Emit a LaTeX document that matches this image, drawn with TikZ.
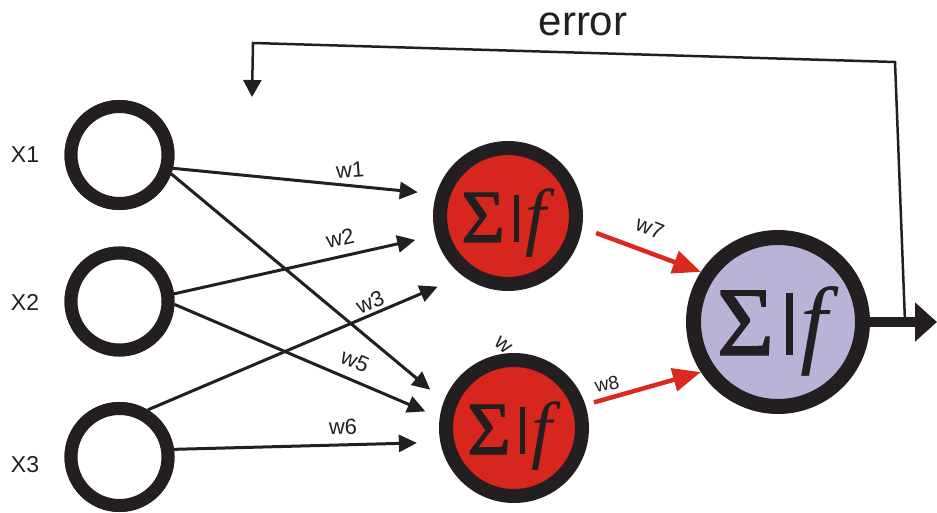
\documentclass[tikz,border=0pt]{standalone}
\usepackage{fontspec}
\setmainfont{Liberation Serif}
\newfontfamily\labelfont{Liberation Sans}
\newfontfamily\sigfont{Liberation Serif}[FakeBold=1.5]
\usetikzlibrary{arrows.meta}
\definecolor{ringc}{HTML}{231F20}
\definecolor{hred}{HTML}{D7261E}
\definecolor{lav}{HTML}{B8B3D7}
\definecolor{wred}{HTML}{DA2A20}
\newcommand{\sigf}[3]{\fontsize{#1}{#1}\selectfont{\sigfont Σ}\hspace{0.12em}\rule{#2}{#3}\hspace{0.08em}\textit{f}}
\tikzset{
  inp/.style={circle,draw=ringc,fill=white,line width=13pt,outer sep=6.5pt,inner sep=0pt,minimum size=97pt},
  hid/.style={circle,draw=ringc,fill=hred,line width=14pt,outer sep=7pt,inner sep=0pt,minimum size=136pt},
  outn/.style={circle,draw=ringc,fill=lav,line width=15pt,outer sep=7.5pt,inner sep=0pt,minimum size=169pt},
  conn/.style={draw=ringc,line width=3pt,-{Triangle[length=18pt,width=17pt]}},
  rconn/.style={draw=wred,line width=4.5pt,-{Triangle[length=28pt,width=23pt]}},
  lbl/.style={font=\labelfont\fontsize{22}{22}\selectfont,text=ringc,inner sep=0pt},
  xlbl/.style={font=\labelfont\fontsize{23}{23}\selectfont,text=ringc,inner sep=0pt},
  sig/.style={anchor=base,inner sep=0pt,text=ringc}
}
\begin{document}
\begin{tikzpicture}[x=1pt,y=-1pt]
\useasboundingbox (0,0) rectangle (937,513);
% node positions
\coordinate (cx1) at (119.5,155);
\coordinate (cx2) at (119.5,301.5);
\coordinate (cx3) at (119.5,457);
% partial hidden label
\node[lbl,rotate=-40] (w4) at (503,345) {w};
% nodes
\node[inp] (x1) at (cx1) {};
\node[inp] (x2) at (cx2) {};
\node[inp] (x3) at (cx3) {};
\node[hid] (h1) at (508,216) {};
\node[hid] (h2) at (514,428) {};
\node[outn] (o) at (778,322) {};
\node[sig] (s1) at ([yshift=-26pt]h1.center) {\sigf{75}{5.5pt}{47pt}};
\node[sig] (s2) at ([yshift=-26pt]h2.center) {\sigf{75}{5.5pt}{47pt}};
\node[sig] (s3) at ([yshift=-33pt]o.center) {\sigf{98}{7pt}{62pt}};
% connectors input -> hidden
\draw[conn,shorten >=18.6pt] (x1.-14) -- (h1.163);
\draw[conn,shorten >=17.8pt] (x1.-20) -- (h2.159);
\draw[conn,shorten >=20.8pt] (x2.8) -- (h1.195);
\draw[conn,shorten >=15.6pt] (x2.-3) -- (h2.172);
\draw[conn,shorten >=27.4pt] (x3.59) -- (h1.233);
\draw[conn,shorten >=23.5pt] (x3.8) -- (h2.191);
% redraw input circles over line starts
\node[inp] at (cx1) {};
\node[inp] at (cx2) {};
\node[inp] at (cx3) {};
% hidden -> output
\draw[rconn,shorten <=15pt] (h1.-9) -- (o.147);
\draw[rconn,shorten <=9pt] (h2.18) -- (o.213);
% output and error feedback
\coordinate (out) at (937,322);
\coordinate (fb0) at (905,322);
\coordinate (fb1) at (895,62);
\coordinate (fb2) at (253,43);
\coordinate (fb3) at (252,97);
\draw[draw=ringc,line width=10pt,-{Triangle[length=22pt,width=38pt]}] (o.east) -- (out);
\draw[draw=ringc,line width=2.5pt,-{Triangle[length=17pt,width=18pt]}] (fb0) -- (fb1) -- (fb2) -- (fb3);
% labels
\node[xlbl] (lx1) at (25,155) {X1};
\node[xlbl] (lx2) at (25,302) {X2};
\node[xlbl] (lx3) at (25,465) {X3};
\node[lbl,rotate=4] (lw1) at (350,170) {w1};
\node[lbl,rotate=13] (lw2) at (340,238) {w2};
\node[lbl,rotate=23] (lw3) at (370,302) {w3};
\node[lbl,rotate=-23] (lw5) at (355,361) {w5};
\node[lbl,rotate=1] (lw6) at (343,427) {w6};
\node[lbl,rotate=-22] (lw7) at (650,228) {w7};
\node[lbl,rotate=12,font=\labelfont\fontsize{19}{19}\selectfont] (lw8) at (607,384) {w8};
\node[inner sep=0pt,text=ringc,font=\labelfont\fontsize{42}{42}\selectfont] (err) at (583,24) {error};
\end{tikzpicture}
\end{document}
